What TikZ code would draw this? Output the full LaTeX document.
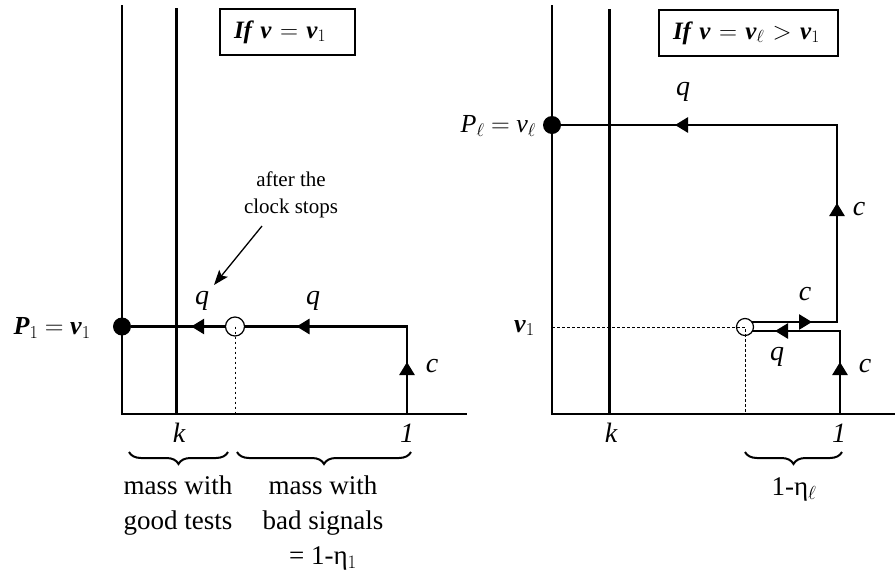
\documentclass[tikz,border=0pt]{standalone}
\usepackage{fix-cm}
\usepackage{amsmath}
\usepackage{fontspec}
\setmainfont{Liberation Serif}
\usetikzlibrary{arrows.meta,decorations.markings,decorations.pathreplacing}
\newcommand{\myfs}[2]{\fontsize{#1}{#2}\selectfont}
\newcommand{\flowhead}{\arrow{Triangle[length=13pt,width=15pt]}}
\newcommand{\bi}[1]{\textbf{\textit{#1}}}
\tikzset{
  axis/.style={line width=1.5pt},
  kline/.style={line width=3pt},
  flow/.style={line width=2.7pt},
  arrowat/.style={postaction={decorate},decoration={markings,mark=at position #1 with {\flowhead}}},
  arrowtwo/.style 2 args={postaction={decorate},decoration={markings,mark=at position #1 with {\flowhead},mark=at position #2 with {\flowhead}}},
  arrowthree/.style n args={3}{postaction={decorate},decoration={markings,mark=at position #1 with {\flowhead},mark=at position #2 with {\flowhead},mark=at position #3 with {\flowhead}}},
  bigdot/.style={circle,fill,inner sep=0pt,minimum size=18pt},
  opendot/.style={circle,draw,line width=1.2pt,inner sep=0pt,minimum size=17pt},
  lab/.style={inner sep=0pt,font=\myfs{28}{30}\itshape},
  plab/.style={inner sep=0pt,font=\myfs{26}{28}},
  titlebox/.style={draw,line width=1.2pt,minimum height=46pt,inner ysep=0pt,align=left,font=\myfs{25}{28}},
  guide/.style={dash pattern=on 2.5pt off 2.5pt,line width=1pt},
  bracket/.style={decorate,decoration={brace,mirror,amplitude=12pt},line width=2pt},
  body/.style={align=center,inner sep=0pt,font=\myfs{27}{35}},
}
\begin{document}
\begin{tikzpicture}[x=1pt,y=-1pt]
\useasboundingbox (0,0) rectangle (895,571);

% ---------------- left panel ----------------
\coordinate (LO) at (122,414);
\coordinate (LYtop) at (122,5);
\coordinate (LXend) at (467,414);
\coordinate (LKtop) at (176,8);
\coordinate (LKbot) at (176,414);
\coordinate (LOne) at (407,414);
\coordinate (LCorner) at (407,326.5);
\coordinate (LCircBot) at (235,414);
\node[bigdot] (LP) at (122,326.5) {};
\node[opendot,minimum size=19pt] (LCirc) at (235,326.5) {};

\draw[axis] (LYtop) -- (LO) -- (LXend);
\draw[kline] (LKtop) -- (LKbot);
\draw[guide] (LCirc.center) -- (LCircBot);
\draw[flow, arrowtwo={52pt}{198pt}] (LOne) -- (LCorner) -- (LCirc);
\draw[flow, arrowat=0.36] (LCirc) -- (LP);

\node[lab] (Lq1) at (202,301) {q};
\node[lab] (Lq2) at (313,301) {q};
\node[lab] (Lc) at (432,366) {c};
\node[lab] (Lk) at (179,433) {k};
\node[lab] (L1) at (407,433) {1};
\node[plab, anchor=east] (LPlab) at (91,328) {\bi{P}$_1$ $=$ \bi{v}$_1$};

\node[titlebox, text width=107pt, inner xsep=14pt] (LTitle) at (287.5,32) {\bi{If v} $=$ \bi{v}$_1$};

\node[font=\myfs{21}{27}, align=center, inner sep=0pt] (LNote) at (291,195) {after the\\clock stops};
\coordinate (LNoteA) at (262,226);
\coordinate (LNoteB) at (214,285);
\draw[line width=1.3pt, -{Stealth[length=15pt,width=11pt,inset=3pt]}] (LNoteA) -- (LNoteB);

\coordinate (LB1a) at (129,452);
\coordinate (LB1b) at (228,452);
\coordinate (LB2a) at (237,452);
\coordinate (LB2b) at (411,452);
\draw[bracket] (LB1a) -- (LB1b);
\draw[bracket] (LB2a) -- (LB2b);
\node[body, anchor=north] (LMassGood) at (178,476) {mass with\\good tests};
\node[body, anchor=north] (LMassBad) at (323,476) {mass with\\bad signals\\= 1-η$_1$};

% ---------------- right panel ----------------
\coordinate (RO) at (552,414);
\coordinate (RYtop) at (552,5);
\coordinate (RXend) at (895,414);
\coordinate (RKtop) at (609,9);
\coordinate (RKbot) at (609,414);
\node[bigdot] (RP) at (552,125) {};
\node[opendot] (RCirc) at (745,327) {};
\coordinate (RTop) at (837,125);
\coordinate (RMidTop) at (837,322);
\coordinate (RS1) at (752,322);
\coordinate (RS2) at (752,331);
\coordinate (RMidBot) at (840,331);
\coordinate (ROne) at (840,414);
\coordinate (RV1) at (552,327);
\coordinate (RCircBot) at (745,414);

\draw[axis] (RYtop) -- (RO) -- (RXend);
\draw[kline] (RKtop) -- (RKbot);
\draw[guide] (RV1) -- (RCirc.center) -- (RCircBot);
\draw[flow, arrowthree={60pt}{204pt}{444pt}] (RS1) -- (RMidTop) -- (RTop) -- (RP);
\draw[flow, arrowtwo={52pt}{148pt}] (ROne) -- (RMidBot) -- (RS2);

\node[lab] (Rq1) at (683,92) {q};
\node[lab] (Rc1) at (859,209) {c};
\node[lab] (Rc2) at (805,294) {c};
\node[lab] (Rq2) at (777,357) {q};
\node[lab] (Rc3) at (865,366) {c};
\node[lab] (Rk) at (611,433) {k};
\node[lab] (R1) at (839,433) {1};
\node[plab, anchor=east] (RPlab) at (536,126) {\textit{P}$_\ell$ $=$ \textit{v}$_\ell$};
\node[plab, anchor=east] (Rv1lab) at (535,328) {\bi{v}$_1$};

\node[titlebox, text width=151pt, inner xsep=14pt] (RTitle) at (748.5,33) {\bi{If v} $=$ \bi{v}$_\ell$ $>$ \bi{v}$_1$};

\coordinate (RBa) at (745,452);
\coordinate (RBb) at (842,452);
\draw[bracket] (RBa) -- (RBb);
\node[body, anchor=north] (REta) at (794,477) {1-η$_\ell$};
\end{tikzpicture}
\end{document}
